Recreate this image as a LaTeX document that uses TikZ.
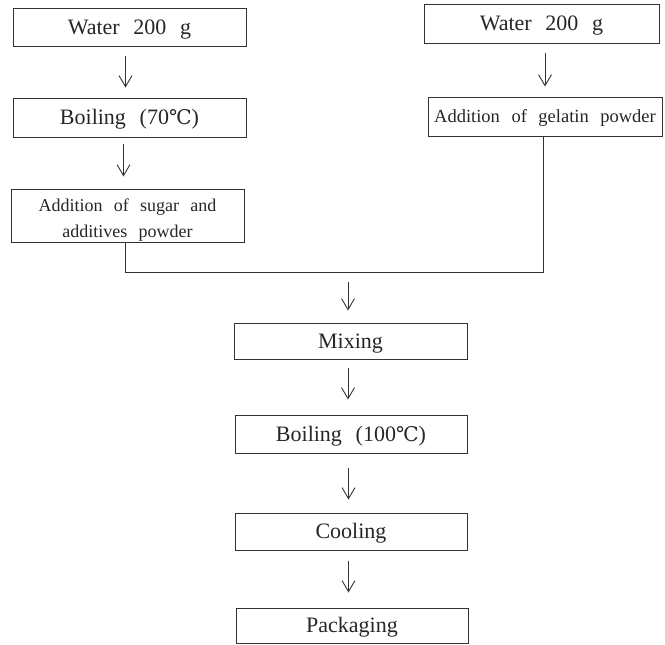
\documentclass[tikz,border=0pt]{standalone}
\usepackage{fontspec}
\setmainfont[WordSpace=2.5]{Liberation Serif}
\newfontfamily\degfont[Scale=0.92]{DejaVu Serif}
\usetikzlibrary{arrows.meta}
\newcommand{\degC}{{\degfont ℃}}
\begin{document}
\begin{tikzpicture}[x=1pt,y=-1pt,
  box/.style={draw=black!80, line width=1pt, inner sep=0pt, text=black!85},
  bigtext/.style={font=\fontsize{22}{26}\selectfont, text height=14.6pt, text depth=0pt},
  smalltext/.style={font=\fontsize{18.5}{26}\selectfont, text height=12.2pt, text depth=0pt},
  twoline/.style={font=\fontsize{18}{26}\selectfont, align=center},
  flow/.style={draw=black!80, line width=0.9pt, -{Straight Barb[length=11pt,width=13pt]}},
  link/.style={draw=black!80, line width=0.9pt}]
\useasboundingbox (0,0) rectangle (665,645);
% left column
\node[box,bigtext,minimum width=233pt,minimum height=38pt] (w1) at (129.5,27) {Water 200 g};
\node[box,bigtext,minimum width=233pt,minimum height=39pt] (b1) at (129.5,117.5) {Boiling (70\degC)};
\node[box,twoline,minimum width=233pt,minimum height=53pt] (s1) at (127.5,215.5)
  {\raisebox{-4pt}[\height][\depth]{\begin{tabular}{@{}c@{}}Addition of sugar and\\additives powder\end{tabular}}};
% right column
\node[box,bigtext,minimum width=235pt,minimum height=39pt] (w2) at (541.5,23.5) {Water 200 g};
\node[box,smalltext,minimum width=234pt,minimum height=39pt] (g2) at (545,116.5) {Addition of gelatin powder};
% centre column
\node[box,bigtext,minimum width=233pt,minimum height=36pt] (mix) at (350.5,341) {Mixing};
\node[box,bigtext,minimum width=232pt,minimum height=38pt] (b2) at (351,434) {Boiling (100\degC)};
\node[box,bigtext,minimum width=232pt,minimum height=37pt] (cool) at (351,531.5) {Cooling};
\node[box,bigtext,minimum width=232pt,minimum height=35pt] (pack) at (352,625.5) {Packaging};
% joint
\coordinate (jl) at (125,272);
\coordinate (jr) at (543,272);
\coordinate (jm) at (348,272);
% connectors
\draw[flow,shorten <=9pt,shorten >=10pt] ([xshift=-4pt]w1.south) -- ([xshift=-4pt]w1.south |- b1.north);
\draw[flow,shorten <=6pt,shorten >=12pt] ([xshift=-6pt]b1.south) -- ([xshift=-6pt]b1.south |- s1.north);
\draw[flow,shorten <=9pt,shorten >=10pt] ([xshift=3.5pt]w2.south) -- ([xshift=3.5pt]w2.south |- g2.north);
\draw[link] (s1.south -| jl) -- (jl) -- (jr) -- (g2.south -| jr);
\draw[flow,shorten <=10pt,shorten >=12pt] (jm) -- (jm |- mix.north);
\draw[flow,shorten <=8pt,shorten >=15pt] ([xshift=-2.5pt]mix.south) -- ([xshift=-2.5pt]mix.south |- b2.north);
\draw[flow,shorten <=14pt,shorten >=13pt] ([xshift=-2.5pt]b2.south) -- ([xshift=-2.5pt]b2.south |- cool.north);
\draw[flow,shorten <=10pt,shorten >=15pt] ([xshift=-2.5pt]cool.south) -- ([xshift=-2.5pt]cool.south |- pack.north);
\end{tikzpicture}
\end{document}
